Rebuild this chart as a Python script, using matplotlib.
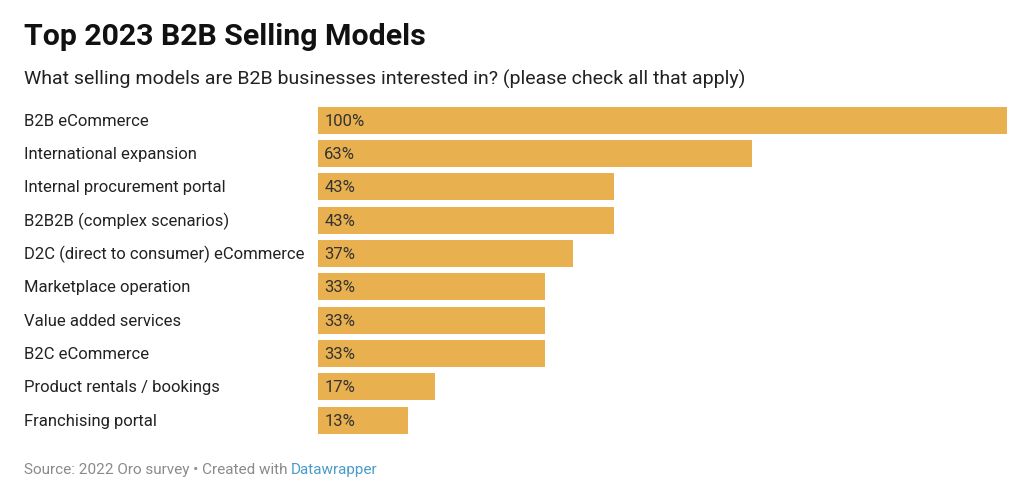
import matplotlib.pyplot as plt

plt.rcParams['font.family'] = ['Roboto', 'DejaVu Sans']

# Dane
categories = [
    "B2B eCommerce",
    "International expansion",
    "Internal procurement portal",
    "B2B2B (complex scenarios)",
    "D2C (direct to consumer) eCommerce",
    "Marketplace operation",
    "Value added services",
    "B2C eCommerce",
    "Product rentals / bookings",
    "Franchising portal",
]
values = [100, 63, 43, 43, 37, 33, 33, 33, 17, 13]

bar_color = "#E8B04F"
text_color = "#222222"

fig = plt.figure(figsize=(10.24, 4.95), dpi=100)
ax = fig.add_axes([318 / 1024, 1 - 436.7 / 495, 689 / 1024, 333.3 / 495])

ypos = list(range(len(categories)))
ax.barh(ypos, values, height=0.81, color=bar_color)
ax.set_xlim(0, 100)
ax.set_ylim(len(categories) - 0.5, -0.5)
ax.axis("off")

for y, cat, v in zip(ypos, categories, values):
    ax.text(0.9, y + 0.03, f"{v}%", va="center", ha="left", fontsize=12, color="#333333")
    ax.annotate(cat, xy=(24 / 1024, y + 0.03), xycoords=("figure fraction", "data"),
                va="center", ha="left", fontsize=12, color=text_color)

# Tytuły
fig.text(24 / 1024, 1 - 37 / 495, "Top 2023 B2B Selling Models", fontsize=21.8,
         fontweight="bold", color="#111111", va="center", ha="left")
fig.text(24 / 1024, 1 - 79 / 495,
         "What selling models are B2B businesses interested in? (please check all that apply)",
         fontsize=14, color="#222222", va="center", ha="left")

# Stopka
src = fig.text(24 / 1024, 1 - 470 / 495, "Source: 2022 Oro survey \u2022 Created with ",
               fontsize=11, color="#8a8a8a", va="center", ha="left")
fig.canvas.draw()
bb = src.get_window_extent()
fig.text(bb.x1 / fig.bbox.width, 1 - 470 / 495, "Datawrapper", fontsize=11,
         color="#4A9CC8", va="center", ha="left")

fig.savefig("out.png", dpi=100)
